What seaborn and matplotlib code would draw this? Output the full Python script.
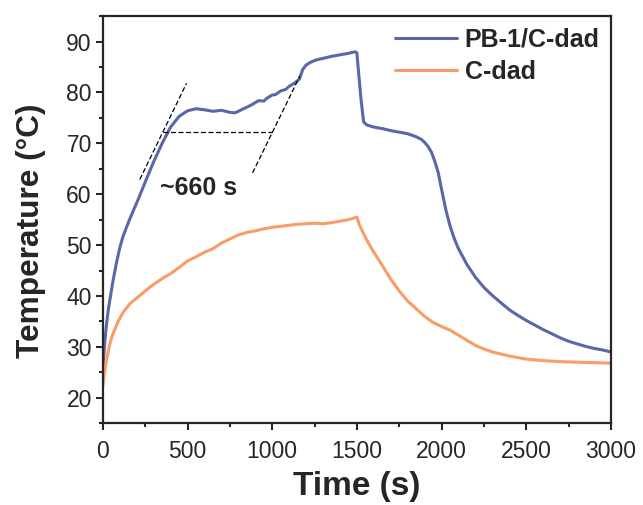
import numpy as np
import pandas as pd
import matplotlib
matplotlib.use("Agg")
import matplotlib.pyplot as plt
import seaborn as sns
from matplotlib.ticker import MultipleLocator

# ---- data ----
t_pb = [0, 5, 10, 20, 30, 40, 60, 80, 100, 120, 150, 180, 210, 250, 300, 350, 400, 450, 500,
        550, 600, 650, 700, 750, 780, 800, 830, 850, 880, 900, 920, 950, 970, 1000, 1020, 1050,
        1080, 1100, 1130, 1160, 1180, 1200, 1230, 1260, 1300, 1350, 1400, 1450, 1490, 1500,
        1510, 1525, 1540, 1560, 1600, 1650, 1700, 1750, 1800, 1850, 1880, 1900, 1920, 1940,
        1960, 1980, 2000, 2025, 2050, 2075, 2100, 2150, 2200, 2250, 2300, 2350, 2400, 2450,
        2500, 2550, 2600, 2650, 2700, 2750, 2800, 2850, 2900, 2950, 3000]
T_pb = [24, 28, 30.5, 34, 36.8, 39, 43, 46.5, 49.5, 51.8, 54.4, 56.8, 59.1, 62.4, 66.4, 70,
        73.2, 75.3, 76.4, 76.8, 76.6, 76.3, 76.5, 76.1, 76.0, 76.3, 76.8, 77.1, 77.6, 78.0, 78.4,
        78.3, 78.9, 79.5, 79.6, 80.3, 80.6, 81.2, 81.8, 82.6, 84.5, 85.4, 86.0, 86.4, 86.7, 87.1,
        87.4, 87.7, 88.0, 87.8, 84, 78.5, 74.2, 73.6, 73.2, 72.9, 72.5, 72.2, 71.9, 71.3, 70.8,
        70.2, 69.4, 68.3, 66.5, 64.3, 61, 57, 53.8, 51.3, 49.3, 46.2, 43.7, 41.7, 40.1, 38.7,
        37.3, 36.2, 35.2, 34.3, 33.4, 32.6, 31.8, 31.1, 30.6, 30.1, 29.7, 29.4, 29.0]

t_c = [0, 10, 20, 40, 60, 90, 120, 160, 200, 250, 300, 350, 400, 450, 500, 550, 600, 650, 700,
       750, 800, 850, 900, 950, 1000, 1050, 1100, 1150, 1200, 1250, 1300, 1350, 1400, 1450,
       1490, 1500, 1515, 1540, 1570, 1600, 1650, 1700, 1750, 1800, 1850, 1900, 1950, 2000,
       2050, 2100, 2150, 2200, 2250, 2300, 2350, 2400, 2450, 2500, 2600, 2700, 2800, 2900, 3000]
T_c = [22.2, 25, 27.2, 30.5, 32.6, 35, 36.8, 38.5, 39.6, 41, 42.3, 43.4, 44.4, 45.6, 46.9,
       47.7, 48.6, 49.3, 50.4, 51.2, 52.0, 52.5, 52.8, 53.2, 53.5, 53.7, 53.9, 54.1, 54.2, 54.3,
       54.2, 54.4, 54.7, 55.0, 55.4, 55.5, 54.0, 52.2, 50.3, 48.6, 46.0, 43.3, 41.0, 39.0, 37.5,
       36.0, 34.8, 34.0, 33.3, 32.3, 31.3, 30.3, 29.6, 29.0, 28.6, 28.2, 27.9, 27.6, 27.3, 27.1,
       27.0, 26.9, 26.8]

series_names = ["PB-1/C-dad", "C-dad"]
colors = ["#5A67A8", "#F89C68"]

# annotation guide lines (time, temperature)
guide1_t = [218, 494]
guide1_T = [62.9, 81.8]
guide2_t = [356, 996]
guide2_T = [72.2, 72.2]
guide3_t = [884, 1163]
guide3_T = [64.2, 83.2]
annot_text = "~660 s"

df = pd.concat([
    pd.DataFrame({"Time": t_pb, "Temp": T_pb, "Sample": series_names[0]}),
    pd.DataFrame({"Time": t_c, "Temp": T_c, "Sample": series_names[1]}),
], ignore_index=True)

sns.set_style("ticks")
plt.rcParams['font.family'] = ['Liberation Sans', 'DejaVu Sans']

fig = plt.figure(figsize=(6.43, 5.05), dpi=100)
ax = fig.add_axes([0.160, 0.162, 0.790, 0.806])

sns.lineplot(data=df, x="Time", y="Temp", hue="Sample", palette=colors,
             hue_order=series_names, linewidth=2.2, ax=ax, sort=False, estimator=None)

ax.plot(guide1_t, guide1_T, ls=(0, (4, 2)), color="black", lw=0.9)
ax.plot(guide2_t, guide2_T, ls=(0, (4, 2)), color="black", lw=0.9)
ax.plot(guide3_t, guide3_T, ls=(0, (4, 2)), color="black", lw=0.9)
ax.text(567, 61.3, annot_text, fontsize=18, fontweight="bold", ha="center", va="center")

ax.set_xlim(0, 3000)
ax.set_ylim(15, 95)
ax.xaxis.set_major_locator(MultipleLocator(500))
ax.xaxis.set_minor_locator(MultipleLocator(250))
ax.yaxis.set_minor_locator(MultipleLocator(5))
ax.set_yticks(range(20, 100, 10))
ax.tick_params(which="major", direction="out", length=5, width=1.5, labelsize=16.5)
ax.tick_params(axis="x", which="major", pad=7)
ax.tick_params(axis="y", which="major", pad=3)
ax.tick_params(which="minor", direction="out", length=3, width=1.5)
for s in ax.spines.values():
    s.set_linewidth(1.6)
    s.set_visible(True)

ax.set_xlabel("Time (s)", fontsize=24, fontweight="bold", labelpad=6)
ax.set_ylabel("Temperature (°C)", fontsize=22.8, fontweight="bold")
ax.yaxis.set_label_coords(-0.112, 0.474)

leg = ax.legend(loc="upper right", bbox_to_anchor=(1.0, 1.0), frameon=False,
                fontsize=18, handlelength=2.5, handletextpad=0.3, labelspacing=0.35,
                borderaxespad=0.05)
for txt in leg.get_texts():
    txt.set_fontweight("bold")
for line in leg.get_lines():
    line.set_linewidth(2.2)

fig.savefig("out.png", dpi=100)
